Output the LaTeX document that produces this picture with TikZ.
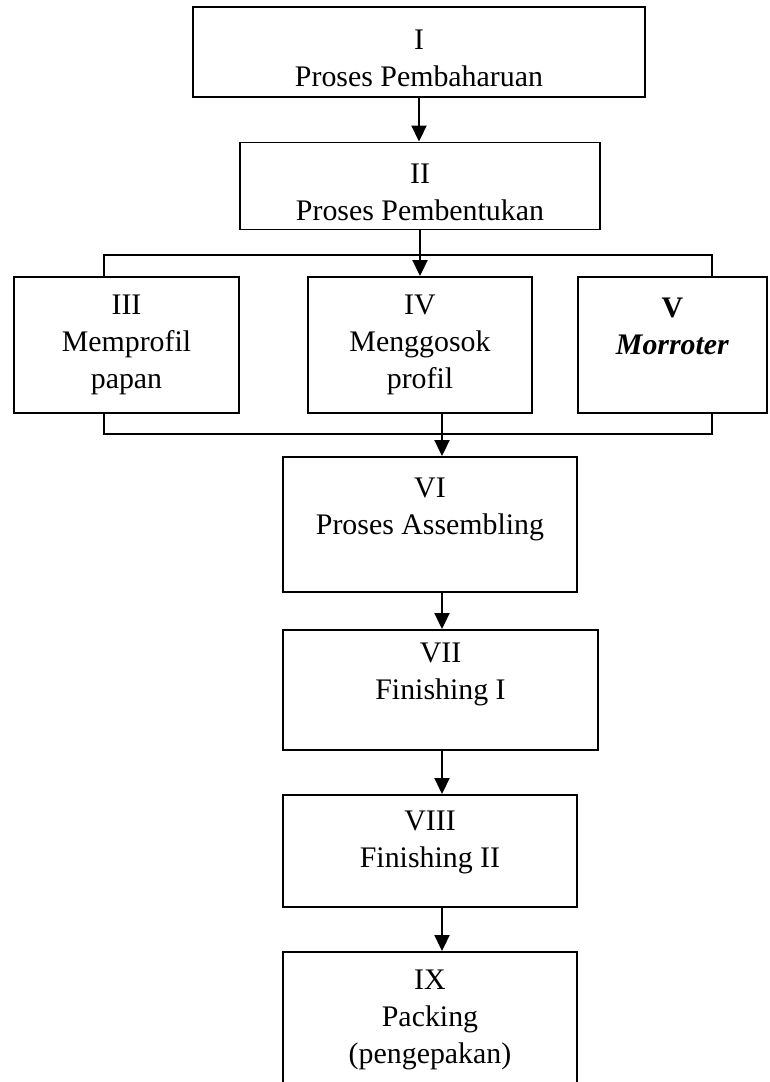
\documentclass[tikz,border=0pt]{standalone}
\usepackage{fontspec}
\setmainfont{Liberation Serif}
\usetikzlibrary{arrows.meta,calc,positioning}

\begin{document}
\begin{tikzpicture}[
  x=0.02cm, y=-0.02cm,
  every node/.style={draw,line width=1.1pt,align=center,inner sep=0pt,
    font=\fontsize{17}{21}\selectfont},
  edge/.style={-{Triangle[length=0.32cm,width=0.3cm]},line width=1.1pt},
  bracket/.style={-,line width=1.1pt}
]
\useasboundingbox (0,0) rectangle (769,1082);
\clip (0,0) rectangle (769,1082);
% Top row
\node[minimum width=9.04cm,minimum height=1.8cm] (I) at (419,52) {\rule{0pt}{18pt}I\\Proses Pembaharuan};
\node[minimum width=7.2cm,minimum height=1.74cm] (II) at (420,186) {\rule{0pt}{18.5pt}II\\Proses Pembentukan};
% Middle row
\node[minimum width=4.5cm,minimum height=2.72cm] (III) at (126.5,345) {III\\Memprofil\\papan};
\node[minimum width=4.48cm,minimum height=2.72cm] (IV) at (420,345) {IV\\Menggosok\\profil};
\node[minimum width=3.78cm,minimum height=2.72cm] (V) at (672.5,345) {\textbf{V}\\\textbf{\textit{Morroter}}\\~};
% Bottom column
\node[minimum width=5.88cm,minimum height=2.7cm] (VI) at (430,524.5) {VI\\Proses Assembling\\~};
\node[minimum width=6.3cm,minimum height=2.4cm] (VII) at (440.5,690) {VII\\Finishing I\\~};
\node[minimum width=5.88cm,minimum height=2.24cm] (VIII) at (430,851) {VIII\\Finishing II\rule[-13pt]{0pt}{13pt}};
\node[minimum width=5.88cm,minimum height=2.72cm] (IX) at (430,1020) {IX\\Packing\\(pengepakan)};
% Branch lines
\coordinate (tl) at (104,255);
\coordinate (tr) at (712,255);
\coordinate (bl) at (104,434);
\coordinate (br) at (712,434);
\coordinate (col) at (442,0);
\draw[bracket] (tl |- III.north) -- (tl) -- (tr) -- (tr |- V.north);
\draw[bracket] (bl |- III.south) -- (bl) -- (br) -- (br |- V.south);
% Arrows
\draw[edge] (I.south) -- (I.south |- II.north);
\draw[edge] (II.south) -- (II.south |- IV.north);
\draw[edge] (IV.south -| col) -- (VI.north -| col);
\draw[edge] (VI.south -| col) -- (VII.north -| col);
\draw[edge] (VII.south -| col) -- (VIII.north -| col);
\draw[edge] (VIII.south -| col) -- (IX.north -| col);
\end{tikzpicture}
\end{document}
